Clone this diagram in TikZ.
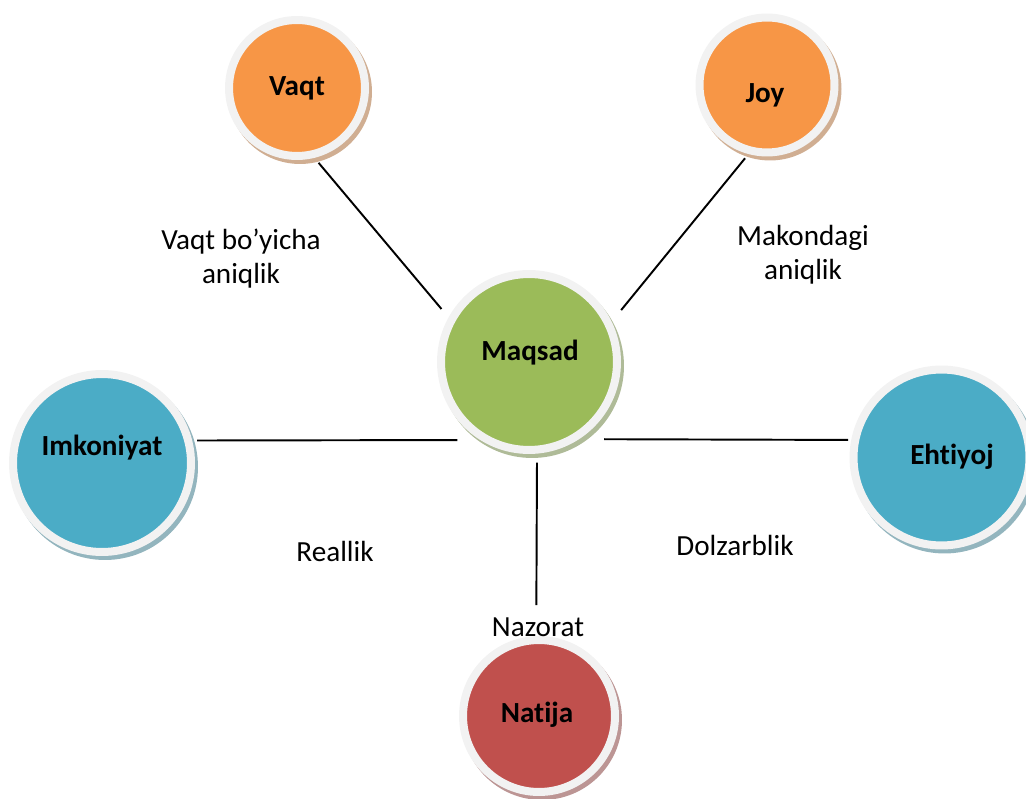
\documentclass[tikz,border=0pt]{standalone}
\usepackage{fontspec}
\setmainfont{Carlito}[Ligatures=NoCommon]
\definecolor{vaqtorange}{HTML}{F79646}
\definecolor{maqsadgreen}{HTML}{9BBB59}
\definecolor{imkonblue}{HTML}{4BACC6}
\definecolor{natijared}{HTML}{C0504D}
\definecolor{ringgray}{HTML}{F2F2F2}

\begin{document}
\begin{tikzpicture}[x=0.02cm, y=0.02cm,
    ball/.style={circle, draw=ringgray, line width=0.16cm, fill=#1,
      preaction={draw=#1!50!gray!70!white, fill=#1!50!gray!70!white,
        transform canvas={xshift=0.06cm, yshift=-0.08cm}}},
    title/.style={font=\fontsize{16.6}{19.4}\selectfont\bfseries},
    note/.style={font=\fontsize{16.6}{19.4}\selectfont, align=center},
    link/.style={line width=1.1pt}]
  \useasboundingbox (0,0) rectangle (1026,798);
  \clip (0,0) rectangle (1026,798);

  % circles
  \node [ball=vaqtorange, minimum size=2.72cm] (vaqt) at (297,710) {};
  \node [ball=vaqtorange, minimum size=2.70cm] (joy) at (767,713) {};
  \node [ball=maqsadgreen, minimum size=3.52cm] (maqsad) at (529,436) {};
  \node [ball=imkonblue, minimum size=3.56cm] (imkoniyat) at (102,335) {};
  \node [ball=imkonblue, minimum size=3.52cm] (ehtiyoj) at (941.5,340.5) {};
  \node [ball=natijared, minimum size=3.04cm] (natija) at (539,82) {};

  \node [title] (vaqt-t) at (297,710) {Vaqt};
  \node [title] (joy-t) at (765,703) {Joy};
  \node [title] (maqsad-t) at (530,445) {Maqsad};
  \node [title] (imkoniyat-t) at (102,350) {Imkoniyat};
  \node [title] (ehtiyoj-t) at (952,341) {Ehtiyoj};
  \node [title] (natija-t) at (537,83) {Natija};

  % connectors
  \draw [link, shorten <=0.13cm, shorten >=0.22cm] (vaqt.-76.5) -- (maqsad.151.7);
  \draw [link, shorten <=0.11cm, shorten >=0.30cm] (joy.-105) -- (maqsad.26.1);
  \draw [link, shorten <=0.10cm, shorten >=0.46cm] (imkoniyat.14.3) -- (maqsad.-122.1);
  \draw [link, shorten <=0.50cm, shorten >=0.06cm] (maqsad.-57.9) -- (ehtiyoj.169);
  \draw [link, shorten <=0.18cm, shorten >=0.62cm] (maqsad.-85.6) -- (natija.92.1);

  % labels
  \node [note] (vaqt-n) at (241,539) {Vaqt bo’yicha\\aniqlik};
  \node [note] (joy-n) at (803,543) {Makondagi\\aniqlik};
  \node [note] (reallik) at (335,247) {Reallik};
  \node [note] (dolzarblik) at (735,253) {Dolzarblik};
  \node [note] (nazorat) at (538,171) {Nazorat};
\end{tikzpicture}
\end{document}
